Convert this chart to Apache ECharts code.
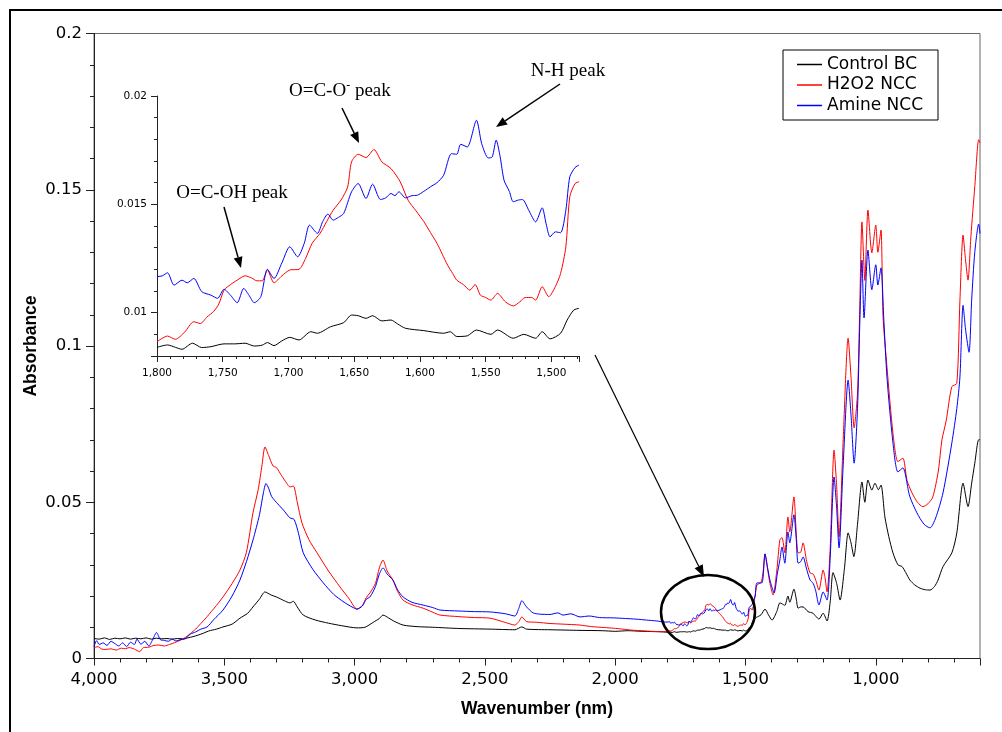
<!DOCTYPE html>
<html>
<head>
<meta charset="utf-8">
<script src="https://cdn.jsdelivr.net/npm/echarts@6/dist/echarts.min.js"></script>
<style>html,body{margin:0;padding:0;background:#fff}#c{width:1002px;height:732px}</style>
</head>
<body>
<div id="c"></div>
<script>
// ---- Data: [wavenumber (cm-1), absorbance] ----
const seriesNames = ['Control BC', 'H2O2 NCC', 'Amine NCC'];
const seriesColors = ['#000000', '#ff0000', '#0000ff'];

// Inset region (1800 -> 1479)
const insetRed = [[1800,0.00866],[1792,0.00892],[1786,0.00877],[1779,0.0091],[1772,0.00958],[1767,0.0095],[1762,0.0098],[1757,0.01005],[1753,0.0104],[1749,0.01104],[1744,0.0113],[1739,0.0115],[1733,0.0117],[1728,0.0116],[1724,0.01147],[1720,0.01147],[1716,0.01197],[1711,0.01138],[1705,0.0117],[1699,0.01197],[1692,0.012],[1687,0.0125],[1682,0.0132],[1676,0.01366],[1671,0.0142],[1666,0.01473],[1660,0.0152],[1655,0.0158],[1652,0.01696],[1647,0.01731],[1641,0.01716],[1635,0.01753],[1629,0.01696],[1622,0.01665],[1615,0.01604],[1609,0.01519],[1603,0.0147],[1597,0.0142],[1592,0.0137],[1587,0.0132],[1583,0.0127],[1579,0.0122],[1575,0.0118],[1572,0.0115],[1567,0.0113],[1562,0.01104],[1558,0.0113],[1554,0.01081],[1550,0.0107],[1546,0.01058],[1541,0.01089],[1535,0.0105],[1529,0.01031],[1524,0.0105],[1520,0.0107],[1515,0.0107],[1512,0.01058],[1507,0.0112],[1502,0.01074],[1497,0.0112],[1493,0.01181],[1489,0.01304],[1486,0.01535],[1482,0.01596],[1479,0.01604]];
const insetBlue = [[1800,0.01166],[1796,0.0117],[1792,0.01184],[1787,0.01127],[1781,0.0115],[1777,0.01138],[1772,0.01158],[1766,0.01097],[1759,0.01081],[1754,0.01066],[1749,0.01108],[1744,0.0108],[1739,0.01046],[1734,0.01112],[1730,0.0108],[1726,0.01046],[1721,0.01074],[1716,0.012],[1711,0.01158],[1705,0.0123],[1699,0.01304],[1693,0.01258],[1688,0.0132],[1684,0.01404],[1678,0.01366],[1674,0.0142],[1670,0.01455],[1666,0.01427],[1662,0.0144],[1658,0.01458],[1652,0.01558],[1647,0.01596],[1641,0.01527],[1636,0.01593],[1630,0.01522],[1626,0.0153],[1622,0.0155],[1619,0.0154],[1616,0.01558],[1611,0.0153],[1606,0.0154],[1602,0.01542],[1597,0.0156],[1592,0.01581],[1587,0.016],[1582,0.01634],[1576,0.01734],[1572,0.01731],[1569,0.01777],[1564,0.01765],[1557,0.01888],[1553,0.0178],[1548,0.01714],[1545,0.01719],[1542,0.01796],[1539,0.0172],[1536,0.01611],[1532,0.0156],[1529,0.01512],[1525,0.0152],[1522,0.01522],[1517,0.0147],[1512,0.01419],[1507,0.01484],[1504,0.0141],[1501,0.0135],[1497,0.01373],[1493,0.01369],[1489,0.01473],[1486,0.01627],[1482,0.0167],[1479,0.01681]];
const insetBlack = [[1800,0.0084],[1792,0.00851],[1786,0.0084],[1781,0.00831],[1773,0.00859],[1766,0.00839],[1759,0.00843],[1749,0.00856],[1741,0.00856],[1733,0.00859],[1726,0.00846],[1720,0.0085],[1716,0.00862],[1711,0.00848],[1705,0.0087],[1699,0.00886],[1692,0.00874],[1683,0.00912],[1678,0.00905],[1668,0.00935],[1658,0.00954],[1652,0.00989],[1647,0.00986],[1641,0.00974],[1636,0.00986],[1629,0.00962],[1622,0.00966],[1617,0.00948],[1611,0.00928],[1597,0.00917],[1582,0.00905],[1577,0.00912],[1572,0.0089],[1564,0.00893],[1557,0.0092],[1546,0.009],[1541,0.0092],[1529,0.00882],[1521,0.009],[1512,0.00882],[1507,0.00912],[1501,0.00879],[1493,0.00905],[1488,0.00966],[1483,0.01012],[1479,0.0102]];

// High-wavenumber part (4000 -> 1815)
const redHigh = [[4000,0.0034],[3985,0.0038],[3970,0.0030],[3955,0.0029],[3935,0.0031],[3915,0.0027],[3895,0.0033],[3880,0.0031],[3865,0.0035],[3845,0.0030],[3825,0.0022],[3810,0.0035],[3790,0.0036],[3770,0.0042],[3750,0.0043],[3730,0.0040],[3710,0.0045],[3690,0.0051],[3670,0.0058],[3650,0.0067],[3630,0.0080],[3610,0.0094],[3590,0.0112],[3570,0.0130],[3550,0.0150],[3530,0.0170],[3505,0.0197],[3470,0.0240],[3440,0.0283],[3415,0.0340],[3390,0.0466],[3370,0.0540],[3355,0.0620],[3344,0.0677],[3330,0.0650],[3313,0.0616],[3300,0.0611],[3280,0.0585],[3260,0.0560],[3248,0.0549],[3235,0.0552],[3220,0.0500],[3202,0.0434],[3175,0.0380],[3144,0.0338],[3100,0.0280],[3056,0.0229],[3020,0.0190],[2991,0.0158],[2970,0.0170],[2955,0.0195],[2941,0.0210],[2920,0.0240],[2905,0.0290],[2891,0.0315],[2875,0.0280],[2853,0.0251],[2835,0.0215],[2814,0.0187],[2780,0.0172],[2737,0.0161],[2700,0.0148],[2672,0.0139],[2600,0.0134],[2540,0.0131],[2480,0.0129],[2420,0.0115],[2385,0.0107],[2370,0.0118],[2358,0.0133],[2340,0.0118],[2301,0.0116],[2250,0.0112],[2200,0.0110],[2135,0.0107],[2090,0.0102],[2040,0.0099],[2007,0.0097],[1970,0.0094],[1940,0.0091],[1900,0.0089],[1860,0.0087],[1815,0.0086]];
const blueHigh = [[4000,0.0038],[3990,0.0057],[3980,0.0045],[3965,0.0050],[3950,0.0042],[3935,0.0055],[3920,0.0048],[3905,0.0040],[3890,0.0050],[3875,0.0038],[3860,0.0052],[3845,0.0045],[3835,0.0062],[3820,0.0046],[3805,0.0055],[3790,0.0040],[3775,0.0060],[3760,0.0083],[3745,0.0060],[3730,0.0058],[3715,0.0055],[3700,0.0062],[3685,0.0056],[3670,0.0060],[3650,0.0063],[3630,0.0078],[3610,0.0085],[3590,0.0094],[3566,0.0101],[3540,0.0125],[3505,0.0155],[3470,0.0200],[3440,0.0251],[3415,0.0310],[3390,0.0379],[3365,0.0460],[3350,0.0530],[3340,0.0560],[3330,0.0545],[3318,0.0518],[3295,0.0495],[3273,0.0475],[3248,0.0450],[3232,0.0445],[3215,0.0400],[3197,0.0338],[3160,0.0285],[3120,0.0242],[3080,0.0205],[3040,0.0180],[3010,0.0165],[2991,0.0158],[2970,0.0168],[2955,0.0190],[2941,0.0197],[2920,0.0230],[2905,0.0270],[2891,0.0290],[2875,0.0270],[2853,0.0251],[2835,0.0220],[2814,0.0197],[2780,0.0180],[2737,0.0171],[2700,0.0163],[2672,0.0155],[2600,0.0152],[2540,0.0150],[2480,0.0149],[2420,0.0143],[2385,0.0136],[2370,0.0160],[2358,0.0185],[2340,0.0165],[2315,0.0146],[2290,0.0142],[2250,0.0141],[2220,0.0146],[2200,0.0139],[2170,0.0143],[2135,0.0133],[2100,0.0136],[2060,0.0131],[2007,0.0130],[1960,0.0128],[1920,0.0126],[1880,0.0123],[1840,0.0120],[1815,0.0117]];
const blackHigh = [[4000,0.0064],[3980,0.0062],[3960,0.0066],[3940,0.0061],[3920,0.0065],[3900,0.0063],[3880,0.0066],[3860,0.0062],[3840,0.0065],[3820,0.0063],[3800,0.0066],[3780,0.0062],[3760,0.0065],[3740,0.0063],[3720,0.0064],[3700,0.0062],[3680,0.0064],[3660,0.0063],[3640,0.0066],[3620,0.0070],[3600,0.0075],[3580,0.0081],[3560,0.0088],[3530,0.0094],[3505,0.0101],[3470,0.0110],[3440,0.0129],[3410,0.0145],[3390,0.0165],[3365,0.0190],[3344,0.0213],[3320,0.0203],[3300,0.0197],[3270,0.0185],[3248,0.0178],[3235,0.0183],[3220,0.0165],[3197,0.0139],[3150,0.0123],[3100,0.0113],[3050,0.0105],[2991,0.0098],[2960,0.0100],[2930,0.0115],[2905,0.0128],[2891,0.0139],[2870,0.0130],[2850,0.0120],[2814,0.0107],[2760,0.0102],[2700,0.0100],[2600,0.0096],[2480,0.0094],[2385,0.0092],[2358,0.0101],[2340,0.0094],[2250,0.0092],[2135,0.0090],[2050,0.0089],[2000,0.0087],[1950,0.0089],[1900,0.0087],[1850,0.0086],[1815,0.0085]];

// Fingerprint part (1475 -> 600)
const redLow = [[1475,0.0155],[1463,0.0200],[1456,0.0235],[1440,0.0244],[1432,0.0280],[1425,0.0334],[1416,0.0290],[1406,0.0240],[1394,0.0203],[1380,0.0280],[1368,0.0379],[1360,0.0387],[1349,0.0338],[1337,0.0453],[1330,0.0405],[1314,0.0517],[1305,0.0400],[1298,0.0338],[1288,0.0340],[1279,0.0370],[1265,0.0310],[1252,0.0274],[1240,0.0270],[1230,0.0250],[1218,0.0219],[1202,0.0283],[1195,0.0260],[1187,0.0213],[1175,0.0350],[1160,0.0667],[1150,0.0550],[1141,0.0390],[1125,0.0700],[1106,0.1025],[1095,0.0900],[1083,0.0738],[1070,0.0850],[1062,0.1100],[1053,0.1397],[1042,0.1210],[1030,0.1435],[1015,0.1298],[1000,0.1387],[992,0.1300],[980,0.1371],[972,0.1094],[957,0.0933],[934,0.0721],[915,0.0630],[896,0.0641],[880,0.0570],[861,0.0530],[840,0.0500],[819,0.0486],[800,0.0495],[781,0.0517],[760,0.0600],[746,0.0700],[730,0.0760],[708,0.0870],[689,0.0880],[677,0.1147],[665,0.1355],[656,0.1280],[646,0.1211],[635,0.1350],[620,0.1510],[605,0.1660],[600,0.1650]];
const blueLow = [[1475,0.0172],[1463,0.0200],[1456,0.0242],[1437,0.0242],[1425,0.0335],[1415,0.0290],[1406,0.0251],[1390,0.0210],[1378,0.0270],[1368,0.0315],[1360,0.0357],[1349,0.0305],[1337,0.0405],[1330,0.0370],[1314,0.0460],[1305,0.0380],[1298,0.0305],[1288,0.0310],[1279,0.0325],[1265,0.0285],[1252,0.0251],[1240,0.0240],[1230,0.0215],[1218,0.0171],[1202,0.0213],[1187,0.0187],[1175,0.0320],[1160,0.0581],[1150,0.0480],[1141,0.0354],[1125,0.0620],[1106,0.0891],[1095,0.0780],[1083,0.0625],[1070,0.0800],[1062,0.1050],[1053,0.1275],[1045,0.1090],[1030,0.1307],[1015,0.1180],[1000,0.1260],[992,0.1195],[980,0.1250],[969,0.1083],[957,0.0900],[934,0.0690],[915,0.0597],[896,0.0610],[870,0.0520],[842,0.0466],[815,0.0430],[792,0.0418],[770,0.0450],[742,0.0530],[708,0.0690],[689,0.0800],[677,0.0901],[665,0.1130],[655,0.1050],[642,0.0980],[632,0.1147],[620,0.1300],[605,0.1390],[600,0.1360]];
const blackLow = [[1470,0.0115],[1463,0.0129],[1450,0.0135],[1440,0.0140],[1425,0.0158],[1412,0.0140],[1398,0.0123],[1380,0.0150],[1368,0.0178],[1360,0.0175],[1349,0.0170],[1337,0.0200],[1330,0.0180],[1314,0.0222],[1305,0.0190],[1298,0.0161],[1288,0.0165],[1279,0.0165],[1260,0.0150],[1241,0.0145],[1230,0.0135],[1218,0.0126],[1202,0.0145],[1187,0.0120],[1175,0.0180],[1164,0.0275],[1150,0.0240],[1137,0.0187],[1120,0.0290],[1106,0.0402],[1095,0.0370],[1084,0.0326],[1070,0.0430],[1053,0.0565],[1042,0.0500],[1030,0.0571],[1015,0.0539],[1003,0.0561],[990,0.0540],[980,0.0555],[965,0.0453],[950,0.0390],[934,0.0338],[915,0.0300],[899,0.0294],[885,0.0275],[869,0.0251],[850,0.0235],[830,0.0225],[810,0.0220],[792,0.0219],[775,0.0230],[761,0.0251],[742,0.0294],[708,0.0338],[689,0.0402],[665,0.0561],[646,0.0486],[632,0.0561],[620,0.0625],[605,0.0700],[600,0.0700]];

const mainBlack = blackHigh.concat(insetBlack, blackLow);
const mainRed = redHigh.concat(insetRed, redLow);
const mainBlue = blueHigh.concat(insetBlue, blueLow);

// ---- Chart ----
const chart = echarts.init(document.getElementById('c'), null, {renderer: 'canvas'});
const F = 'DejaVu Sans';
const axisCol = '#222';

function arrow(x1, y1, x2, y2, lw, hl, hw) {
  const dx = x2 - x1, dy = y2 - y1, L = Math.sqrt(dx*dx + dy*dy);
  const ux = dx / L, uy = dy / L;
  const bx = x2 - ux * hl, by = y2 - uy * hl;
  return [
    {type: 'line', shape: {x1: x1, y1: y1, x2: bx, y2: by}, style: {stroke: '#000', lineWidth: lw}, z: 100},
    {type: 'polygon', shape: {points: [[x2, y2], [bx - uy*hw, by + ux*hw], [bx + uy*hw, by - ux*hw]]}, style: {fill: '#000'}, z: 100}
  ];
}

function mkSeries(name, data, color, xi, yi) {
  return {type: 'line', name: name, xAxisIndex: xi, yAxisIndex: yi, data: data, symbol: 'none', showSymbol: false,
    smooth: 0.25, lineStyle: {color: color, width: 1}, itemStyle: {color: color}, emphasis: {disabled: true}, silent: true};
}

const serifAnno = {fontFamily: 'Liberation Serif', fontSize: 19, fill: '#000'};

const option = {
  animation: false,
  backgroundColor: '#ffffff',
  grid: [
    {left: 94, top: 33.5, right: 22, bottom: 73.5, show: true, borderColor: '#666', borderWidth: 1, backgroundColor: 'transparent'},
    {left: 157, top: 96, right: 423, bottom: 376}
  ],
  legend: {
    orient: 'vertical', left: 783, top: 50, padding: [4.5, 15, 4.5, 14],
    icon: 'rect', itemWidth: 25, itemHeight: 1.5, itemGap: 0.5,
    borderColor: '#000', borderWidth: 1, borderRadius: 0, backgroundColor: '#fff',
    textStyle: {fontFamily: F, fontSize: 17, color: '#000', lineHeight: 20},
    data: seriesNames
  },
  xAxis: [
    {type: 'value', gridIndex: 0, min: 600, max: 4000, inverse: true, splitNumber: 7,
      axisLine: {onZero: false, lineStyle: {color: axisCol, width: 1}},
      axisTick: {show: true, length: 7, lineStyle: {color: axisCol}},
      minorTick: {show: true, splitNumber: 5, length: 4, lineStyle: {color: axisCol}},
      splitLine: {show: false}, minorSplitLine: {show: false},
      axisLabel: {showMinLabel: false, fontFamily: F, fontSize: 16.5, color: '#000', margin: 13}},
    {type: 'value', gridIndex: 1, min: 1479, max: 1800, inverse: true, splitNumber: 6,
      axisLine: {onZero: false, lineStyle: {color: axisCol, width: 1}},
      axisTick: {show: true, length: 6, lineStyle: {color: axisCol}},
      minorTick: {show: true, splitNumber: 5, length: 3, lineStyle: {color: axisCol}},
      splitLine: {show: false},
      axisLabel: {showMinLabel: false, fontFamily: F, fontSize: 10.5, color: '#000', margin: 12}}
  ],
  yAxis: [
    {type: 'value', gridIndex: 0, min: 0, max: 0.2, interval: 0.05,
      axisLine: {show: true, onZero: false, lineStyle: {color: axisCol, width: 1}},
      axisTick: {show: true, length: 8, lineStyle: {color: axisCol}},
      minorTick: {show: true, splitNumber: 5, length: 4, lineStyle: {color: axisCol}},
      splitLine: {show: false},
      axisLabel: {fontFamily: F, fontSize: 16.5, color: '#000', margin: 12}},
    {type: 'value', gridIndex: 1, min: 0.008, max: 0.02, splitNumber: 3,
      axisLine: {show: true, onZero: false, lineStyle: {color: axisCol, width: 1}},
      axisTick: {show: true, length: 6, lineStyle: {color: axisCol}},
      minorTick: {show: true, splitNumber: 5, length: 3, lineStyle: {color: axisCol}},
      splitLine: {show: false},
      axisLabel: {showMinLabel: false, fontFamily: F, fontSize: 10.5, color: '#000', margin: 10}}
  ],
  series: [
    mkSeries(seriesNames[0], mainBlack, seriesColors[0], 0, 0),
    mkSeries(seriesNames[1], mainRed, seriesColors[1], 0, 0),
    mkSeries(seriesNames[2], mainBlue, seriesColors[2], 0, 0),
    mkSeries('inset ' + seriesNames[0], insetBlack, seriesColors[0], 1, 1),
    mkSeries('inset ' + seriesNames[1], insetRed, seriesColors[1], 1, 1),
    mkSeries('inset ' + seriesNames[2], insetBlue, seriesColors[2], 1, 1)
  ],
  graphic: [
    {type: 'rect', shape: {x: 10, y: 10, width: 1000, height: 730}, style: {fill: 'none', stroke: '#000', lineWidth: 2}, z: 100},
    {type: 'text', x: 537, y: 709, style: {text: 'Wavenumber (nm)', fontFamily: 'Liberation Sans', fontWeight: 'bold', fontSize: 17.5, fill: '#000', align: 'center', verticalAlign: 'middle'}},
    {type: 'text', x: 31, y: 346, rotation: Math.PI / 2, style: {text: 'Absorbance', fontFamily: 'Liberation Sans', fontWeight: 'bold', fontSize: 17.5, fill: '#000', align: 'center', verticalAlign: 'middle'}},
    {type: 'ellipse', shape: {cx: 708, cy: 612, rx: 47, ry: 37}, style: {fill: 'none', stroke: '#000', lineWidth: 2.5}, z: 100},
    {type: 'text', x: 289, y: 91, style: Object.assign({text: '{n|O=C-O}{s|-}{n| peak}', align: 'left', verticalAlign: 'middle',
      rich: {n: {fontFamily: 'Liberation Serif', fontSize: 19, lineHeight: 22}, s: {fontFamily: 'Liberation Serif', fontSize: 12, lineHeight: 22, verticalAlign: 'top', padding: [0, 0, 0, 0]}}}, serifAnno)},
    {type: 'text', x: 568, y: 71, style: Object.assign({text: 'N-H peak', align: 'center', verticalAlign: 'middle'}, serifAnno)},
    {type: 'text', x: 232, y: 193, style: Object.assign({text: 'O=C-OH peak', align: 'center', verticalAlign: 'middle'}, serifAnno)}
  ].concat(
    arrow(595, 355, 704, 577, 1.2, 12, 4.5),
    arrow(342, 108, 359, 143, 1.5, 11, 4.5),
    arrow(560, 84, 496, 127, 1.5, 11, 4.5),
    arrow(224, 207, 241, 268, 1.5, 11, 4.5)
  )
};
chart.setOption(option);
</script>
</body>
</html>
